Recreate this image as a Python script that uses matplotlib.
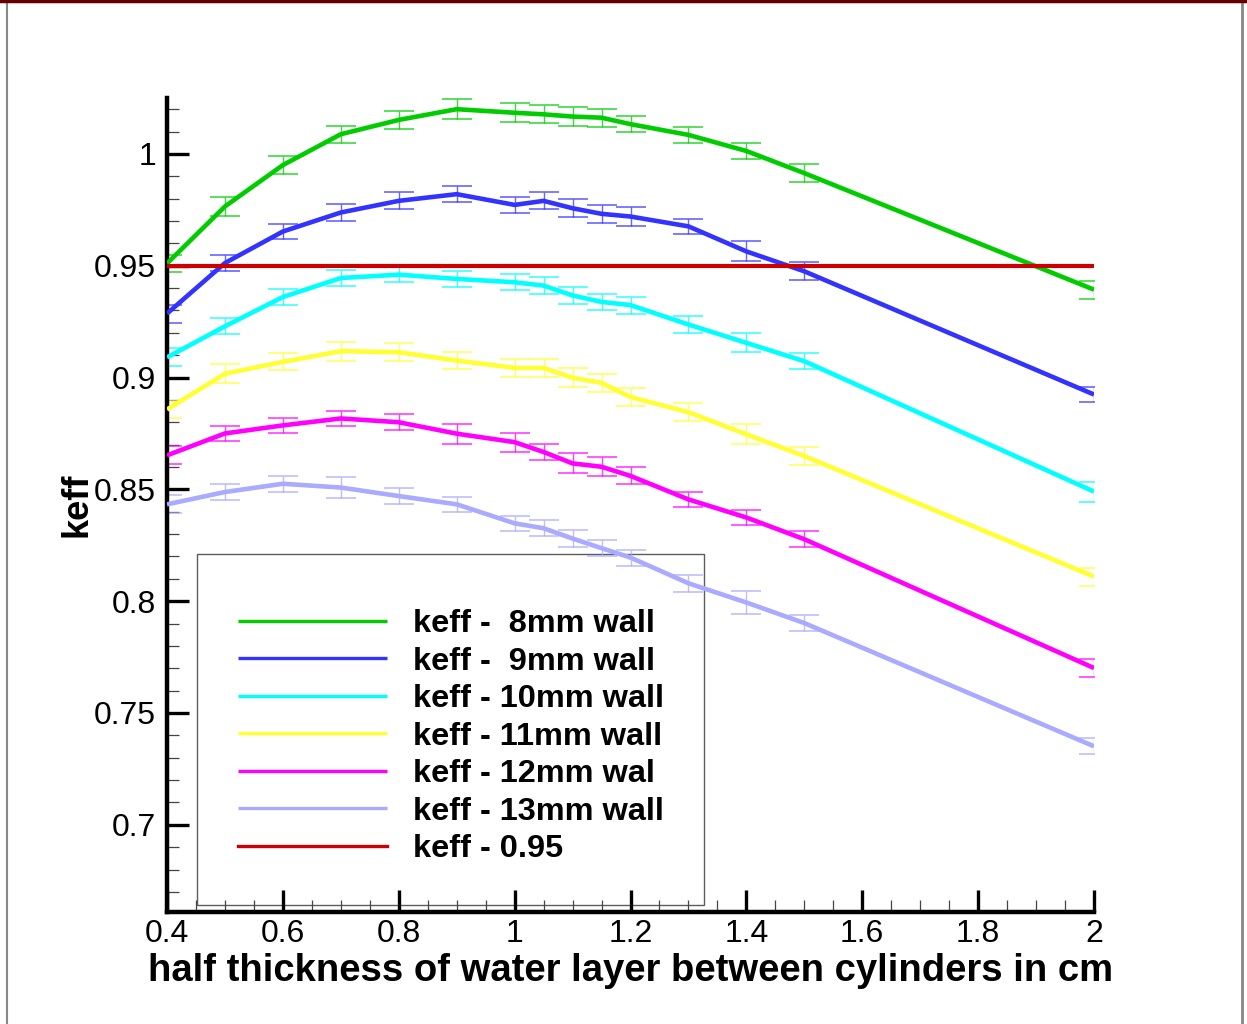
import matplotlib
matplotlib.use("Agg")
import matplotlib.pyplot as plt
from matplotlib.lines import Line2D
from matplotlib.ticker import MultipleLocator, FormatStrFormatter

plt.rcParams.update({
    "font.family": ["Liberation Sans", "DejaVu Sans"],
    "font.size": 23,
})

# half thickness of water layer (cm)
x = [0.4, 0.5, 0.6, 0.7, 0.8, 0.9, 1.0, 1.05, 1.1, 1.15, 1.2, 1.3, 1.4, 1.5, 2.0]

keff_8mm = [0.951, 0.9765, 0.995, 1.0088, 1.0152, 1.020, 1.0184, 1.0177, 1.0167, 1.0162,
            1.0133, 1.0085, 1.0013, 0.9914, 0.9393]
keff_9mm = [0.9286, 0.9512, 0.9653, 0.9738, 0.979, 0.982, 0.9772, 0.979, 0.9757, 0.9732,
            0.972, 0.9676, 0.9564, 0.9475, 0.8924]
keff_10mm = [0.909, 0.9229, 0.936, 0.9445, 0.946, 0.9441, 0.9426, 0.9411, 0.9367, 0.9338,
             0.9324, 0.9237, 0.9155, 0.9073, 0.849]
keff_11mm = [0.8857, 0.9017, 0.907, 0.9118, 0.9113, 0.9076, 0.9043, 0.9043, 0.8999, 0.8976,
             0.8913, 0.8845, 0.8746, 0.8649, 0.811]
keff_12mm = [0.8652, 0.875, 0.8786, 0.8817, 0.880, 0.8749, 0.8711, 0.8667, 0.8616, 0.8601,
             0.856, 0.8455, 0.8374, 0.8277, 0.7701]
keff_13mm = [0.8433, 0.8488, 0.8525, 0.8508, 0.847, 0.8433, 0.8348, 0.8326, 0.828, 0.8237,
             0.8195, 0.808, 0.7994, 0.7902, 0.7351]

# one-sigma statistical uncertainties
err_8mm = [0.004, 0.0042, 0.004, 0.0038, 0.004, 0.0045, 0.0042, 0.004, 0.0042, 0.004,
           0.0035, 0.0035, 0.0035, 0.004, 0.004]
err_9mm = [0.004, 0.0035, 0.0035, 0.0038, 0.0038, 0.0036, 0.0036, 0.0038, 0.004, 0.004,
           0.0042, 0.0035, 0.0045, 0.004, 0.0035]
err_10mm = [0.004, 0.0035, 0.0035, 0.0035, 0.0035, 0.0036, 0.0036, 0.0038, 0.0038, 0.0035,
            0.0038, 0.0036, 0.0042, 0.0035, 0.0045]
err_11mm = [0.004, 0.0042, 0.0038, 0.0042, 0.004, 0.004, 0.0042, 0.0042, 0.0042, 0.0042,
            0.004, 0.004, 0.0045, 0.004, 0.004]
err_12mm = [0.004, 0.0035, 0.0035, 0.0035, 0.0035, 0.0045, 0.0042, 0.0038, 0.0045, 0.0042,
            0.0038, 0.0035, 0.0035, 0.0035, 0.004]
err_13mm = [0.004, 0.0036, 0.0035, 0.0045, 0.0035, 0.0035, 0.0035, 0.0035, 0.0036, 0.0036,
            0.0036, 0.0038, 0.005, 0.0035, 0.0035]

limit = 0.95

labels = ["keff -  8mm wall", "keff -  9mm wall", "keff - 10mm wall",
          "keff - 11mm wall", "keff - 12mm wal", "keff - 13mm wall"]
colors = ["#00cc00", "#3333ff", "#00ffff", "#ffff33", "#ff00ff", "#aaaaff"]
series = [keff_8mm, keff_9mm, keff_10mm, keff_11mm, keff_12mm, keff_13mm]
errors = [err_8mm, err_9mm, err_10mm, err_11mm, err_12mm, err_13mm]

fig = plt.figure(figsize=(12.47, 10.24), dpi=100)
ax = fig.add_axes([167 / 1247, 112 / 1024, 927 / 1247, 814 / 1024])

for y, e, c, lab in zip(series, errors, colors, labels):
    ax.errorbar(x, y, yerr=e, fmt="none", ecolor=c, elinewidth=1.0,
                capsize=11, capthick=1.2, alpha=0.75, zorder=2)
    ax.plot(x, y, color=c, lw=3.3, label=lab, zorder=3, solid_capstyle="butt")

ax.axhline(limit, color="#cc0000", lw=3.0, label="keff - 0.95", zorder=3)

ax.set_xlim(0.4, 2.0)
ax.set_ylim(0.661, 1.025)

ax.xaxis.set_major_locator(MultipleLocator(0.2))
ax.xaxis.set_minor_locator(MultipleLocator(0.05))
ax.yaxis.set_major_locator(MultipleLocator(0.05))
ax.yaxis.set_minor_locator(MultipleLocator(0.01))
ax.xaxis.set_major_formatter(FormatStrFormatter("%g"))
ax.yaxis.set_major_formatter(FormatStrFormatter("%g"))

ax.spines["top"].set_visible(False)
ax.spines["right"].set_visible(False)
ax.spines["left"].set_linewidth(3.2)
ax.spines["bottom"].set_linewidth(3.2)

ax.tick_params(which="major", direction="in", length=15.5, width=2.4, labelsize=23)
ax.tick_params(which="minor", direction="in", length=8.5, width=0.9, color="#444444")
ax.tick_params(axis="y", which="major", pad=8)
ax.tick_params(axis="x", which="major", pad=5)

ax.set_xlabel("half thickness of water layer between cylinders in cm",
              fontsize=27.5, fontweight="bold")
ax.xaxis.set_label_coords(0.5, -0.05)
ax.set_ylabel("keff", fontsize=26, fontweight="bold")
ax.yaxis.set_label_coords(-0.078, 0.5)

# blank small title leaves the extra room above the first entry
leg = ax.legend(loc="lower left", bbox_to_anchor=(0.0324, 0.0086), borderaxespad=0,
                prop={"weight": "bold", "size": 23.4}, frameon=True, fancybox=False,
                handlelength=4.6, handletextpad=0.77, borderpad=1.26, labelspacing=0.23,
                title=" ", title_fontsize=6)
leg.set_zorder(1)
leg.get_frame().set_facecolor("none")
leg.get_frame().set_edgecolor("#333333")
leg.get_frame().set_linewidth(1.0)
for h in leg.get_lines():
    h.set_linewidth(2.4)

# page frame around the figure
fig.add_artist(Line2D([7 / 1247, 7 / 1247], [0, 1], color="#888888", lw=1.5))
fig.add_artist(Line2D([1242 / 1247, 1242 / 1247], [0, 1], color="#888888", lw=2))
fig.add_artist(Line2D([0, 1], [0.999, 0.999], color="#660000", lw=2.5))

fig.savefig("out.png", dpi=100)
